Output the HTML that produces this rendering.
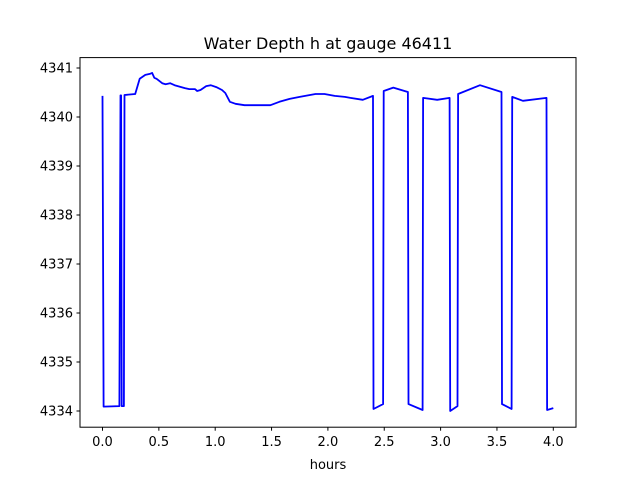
<!DOCTYPE html>
<html><head><meta charset="utf-8"><style>
body{margin:0;background:#fff}
svg{font-family:"DejaVu Sans","Liberation Sans",sans-serif}
</style></head><body>
<svg id="chart" width="640" height="480" xmlns="http://www.w3.org/2000/svg">
<rect width="640" height="480" fill="#fff"/>
<text x="328" y="49" font-size="16" text-anchor="middle">Water Depth h at gauge 46411</text>
<g id="xt"></g>
<g id="yt"></g>
<path id="line" fill="none" stroke="#0000ff" stroke-width="1.8" stroke-linejoin="round"/>
<rect x="80" y="57.6" width="496" height="369.6" fill="none" stroke="#000" stroke-width="1"/>
<text x="328" y="469" font-size="13" text-anchor="middle">hours</text>
</svg>
<script>
const times=[0,0.01,0.15,0.16,0.165,0.17,0.19,0.195,0.29,0.33,0.38,0.42,0.44,0.46,0.48,0.53,0.56,0.60,0.64,0.73,0.77,0.82,0.84,0.87,0.92,0.96,1.01,1.06,1.09,1.13,1.18,1.26,1.35,1.42,1.49,1.57,1.66,1.75,1.89,1.97,2.06,2.15,2.20,2.31,2.40,2.405,2.49,2.495,2.58,2.71,2.715,2.84,2.845,2.97,3.08,3.085,3.15,3.155,3.35,3.54,3.545,3.63,3.635,3.73,3.94,3.945,4.0];
const depths=[4340.43,4334.09,4334.1,4340.44,4340.44,4334.1,4334.1,4340.45,4340.47,4340.78,4340.86,4340.88,4340.9,4340.8,4340.78,4340.69,4340.67,4340.69,4340.65,4340.59,4340.57,4340.57,4340.53,4340.55,4340.63,4340.65,4340.61,4340.55,4340.49,4340.31,4340.27,4340.24,4340.24,4340.24,4340.24,4340.31,4340.37,4340.41,4340.47,4340.47,4340.43,4340.41,4340.39,4340.35,4340.43,4334.04,4334.14,4340.53,4340.6,4340.51,4334.14,4334.02,4340.39,4340.35,4340.39,4334.0,4334.1,4340.47,4340.65,4340.51,4334.14,4334.04,4340.41,4340.33,4340.39,4334.02,4334.06];
const xTicks=[0,0.5,1,1.5,2,2.5,3,3.5,4];
const xTickLabels=["0.0","0.5","1.0","1.5","2.0","2.5","3.0","3.5","4.0"];
const yTicks=[4334,4335,4336,4337,4338,4339,4340,4341];
const xs=v=>102.5+v*112.7;
const ys=v=>68-(v-4341)*49;
const NS="http://www.w3.org/2000/svg";
const xt=document.getElementById('xt'),yt=document.getElementById('yt');
xTicks.forEach((t,i)=>{
 const l=document.createElementNS(NS,'line');
 
 
 l.setAttribute('x1',xs(t));l.setAttribute('x2',xs(t));l.setAttribute('y1',427.2);l.setAttribute('y2',430.7);l.setAttribute('stroke','#000');
 xt.appendChild(l);
 const tx=document.createElementNS(NS,'text');
 
 
 tx.setAttribute('x',xs(t));tx.setAttribute('y',446);tx.setAttribute('font-size','13');tx.setAttribute('text-anchor','middle');
 tx.textContent=xTickLabels[i];xt.appendChild(tx);
});
yTicks.forEach(v=>{
 const l=document.createElementNS(NS,'line');
 
 
 l.setAttribute('x1',76.5);l.setAttribute('x2',80);l.setAttribute('y1',ys(v));l.setAttribute('y2',ys(v));l.setAttribute('stroke','#000');
 yt.appendChild(l);
 const tx=document.createElementNS(NS,'text');
 
 
 tx.setAttribute('x',73);tx.setAttribute('y',ys(v)+4.5);tx.setAttribute('font-size','13');tx.setAttribute('text-anchor','end');
 tx.textContent=v;yt.appendChild(tx);
});
document.getElementById('line').setAttribute('d',times.map((t,i)=>(i?'L':'M')+xs(t).toFixed(1)+','+ys(depths[i]).toFixed(1)).join(''));
</script>
</body></html>
